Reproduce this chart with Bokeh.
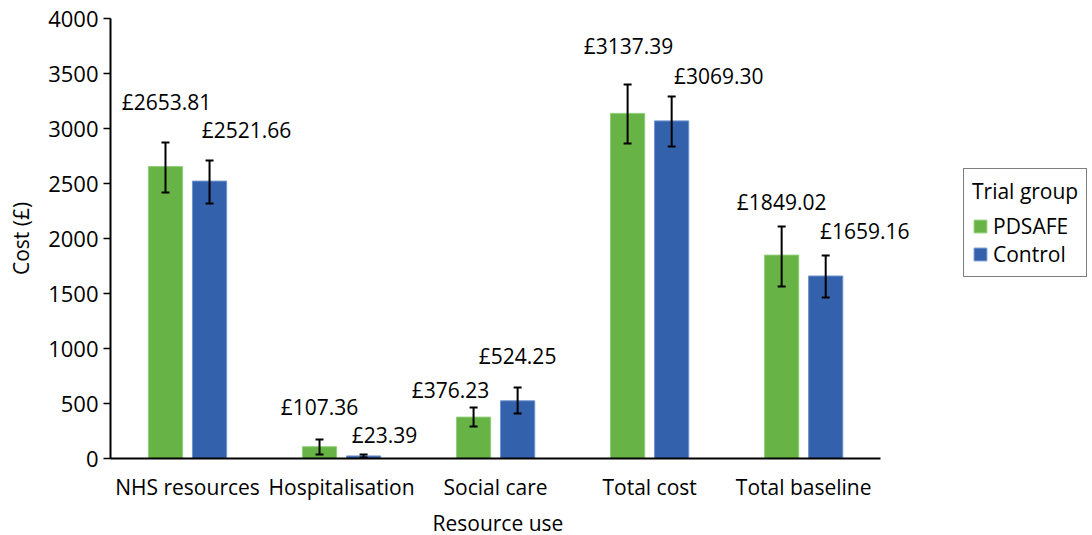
from bokeh.plotting import figure
from bokeh.models import (ColumnDataSource, Range1d, Whisker, Legend, LegendItem, LabelSet,
                          FixedTicker, Title)
from bokeh.transform import dodge
from bokeh.core.properties import value
from bokeh.embed import file_html
from bokeh.resources import INLINE

categories = ["NHS resources", "Hospitalisation", "Social care", "Total cost", "Total baseline"]
groups = ["PDSAFE", "Control"]
pdsafe_mean = [2653.81, 107.36, 376.23, 3137.39, 1849.02]
pdsafe_lower = [2418, 36, 291, 2864, 1564]
pdsafe_upper = [2873, 173, 464, 3400, 2109]
control_mean = [2521.66, 23.39, 524.25, 3069.30, 1659.16]
control_lower = [2318, 10, 409, 2836, 1464]
control_upper = [2709, 36, 645, 3291, 1845]
y_ticks = [0, 500, 1000, 1500, 2000, 2500, 3000, 3500, 4000]
x_title = "Resource use"
y_title = "Cost (£)"

# label placement (pixel offsets above the error-bar top, styling only)
pdsafe_lab_dx = [1, 0, -23, 1, 0]
pdsafe_lab_dy = [40, 32, 17, 39, 25]
control_lab_dx = [37, 21, 0, 47, 39]
control_lab_dy = [31, 20, 32, 20, 25]

FONT = "Open Sans"
FS = "21px"
GREEN = "#67b346"
BLUE = "#3461ac"

n = len(categories)
centers = [i + 0.5 for i in range(n)]
extra = 0.2  # room right of the axis end so labels are not clipped

p = figure(x_range=Range1d(0, n + extra), y_range=(0, 4000),
           frame_width=round(770 * (n + extra) / n), frame_height=440,
           output_backend="svg", toolbar_location=None,
           min_border_left=110, min_border_top=18, min_border_bottom=8,
           min_border_right=10)
p.outline_line_color = None
p.grid.visible = False
p.background_fill_color = "white"

src_p = ColumnDataSource(dict(xc=centers, mean=pdsafe_mean, lower=pdsafe_lower, upper=pdsafe_upper,
                              text=[f"£{v:.2f}" for v in pdsafe_mean], dx=pdsafe_lab_dx, dy=pdsafe_lab_dy))
src_c = ColumnDataSource(dict(xc=centers, mean=control_mean, lower=control_lower, upper=control_upper,
                              text=[f"£{v:.2f}" for v in control_mean], dx=control_lab_dx, dy=control_lab_dy))

off = 0.143
bw = 0.222
r1 = p.vbar(x=dodge("xc", -off), top="mean", width=bw, source=src_p,
            fill_color=GREEN, line_color="#8fcf78", line_width=1)
r2 = p.vbar(x=dodge("xc", off), top="mean", width=bw, source=src_c,
            fill_color=BLUE, line_color="#6f93cc", line_width=1)

for src, o in ((src_p, -off), (src_c, off)):
    w = Whisker(base=dodge("xc", o), upper="upper", lower="lower", source=src,
                line_color="black", line_width=2, level="overlay")
    w.upper_head.size = 8
    w.lower_head.size = 8
    w.upper_head.line_width = 2
    w.lower_head.line_width = 2
    p.add_layout(w)
    labels = LabelSet(x=dodge("xc", o), y="upper", text="text", source=src,
                      x_offset="dx", y_offset="dy", text_align="center", text_baseline="middle",
                      text_font=value(FONT), text_font_size=value(FS), text_color="black",
                      level="overlay")
    p.add_layout(labels)

p.xaxis.ticker = FixedTicker(ticks=centers)
p.xaxis.major_label_overrides = {c: name for c, name in zip(centers, categories)}
p.xaxis.bounds = (0, n)
p.yaxis.ticker = y_ticks
p.yaxis.axis_label = y_title
for ax in (p.xaxis[0], p.yaxis[0]):
    ax.axis_label_text_font = FONT
    ax.axis_label_text_font_size = FS
    ax.axis_label_text_font_style = "normal"
    ax.axis_label_text_color = "black"
    ax.major_label_text_font = FONT
    ax.major_label_text_font_size = FS
    ax.major_label_text_color = "black"
    ax.axis_line_color = "black"
    ax.minor_tick_line_color = None

p.yaxis.major_label_text_font_size = "22px"
p.yaxis.axis_line_width = 2
p.yaxis.major_tick_line_width = 1.5
p.yaxis.major_tick_out = 7
p.yaxis.major_tick_in = 0
p.yaxis.major_label_standoff = 5
p.yaxis.axis_label_standoff = 10
p.xaxis.axis_line_width = 2
p.xaxis.major_tick_line_color = None
p.xaxis.major_label_standoff = 8

# x-axis title centred under the category axis (not the wider frame)
xt = Title(text=x_title, align="left", offset=322, text_font=FONT, text_font_size=FS,
           text_font_style="normal", text_color="black", standoff=6)
p.add_layout(xt, "below")

legend = Legend(items=[LegendItem(label=groups[0], renderers=[r1]),
                       LegendItem(label=groups[1], renderers=[r2])],
                title="Trial group", location=(52, 181))
legend.title_text_font = FONT
legend.title_text_font_size = FS
legend.title_text_font_style = "normal"
legend.title_text_color = "black"
legend.title_standoff = 7
legend.label_text_font = FONT
legend.label_text_font_size = FS
legend.label_text_color = "black"
legend.glyph_width = 16
legend.glyph_height = 16
legend.label_standoff = 5
legend.spacing = 0
legend.padding = 8
legend.margin = 0
legend.label_height = 20
legend.border_line_color = "black"
legend.border_line_width = 1.5
p.add_layout(legend, "right")

open("out.html", "w").write(file_html(p, INLINE))
